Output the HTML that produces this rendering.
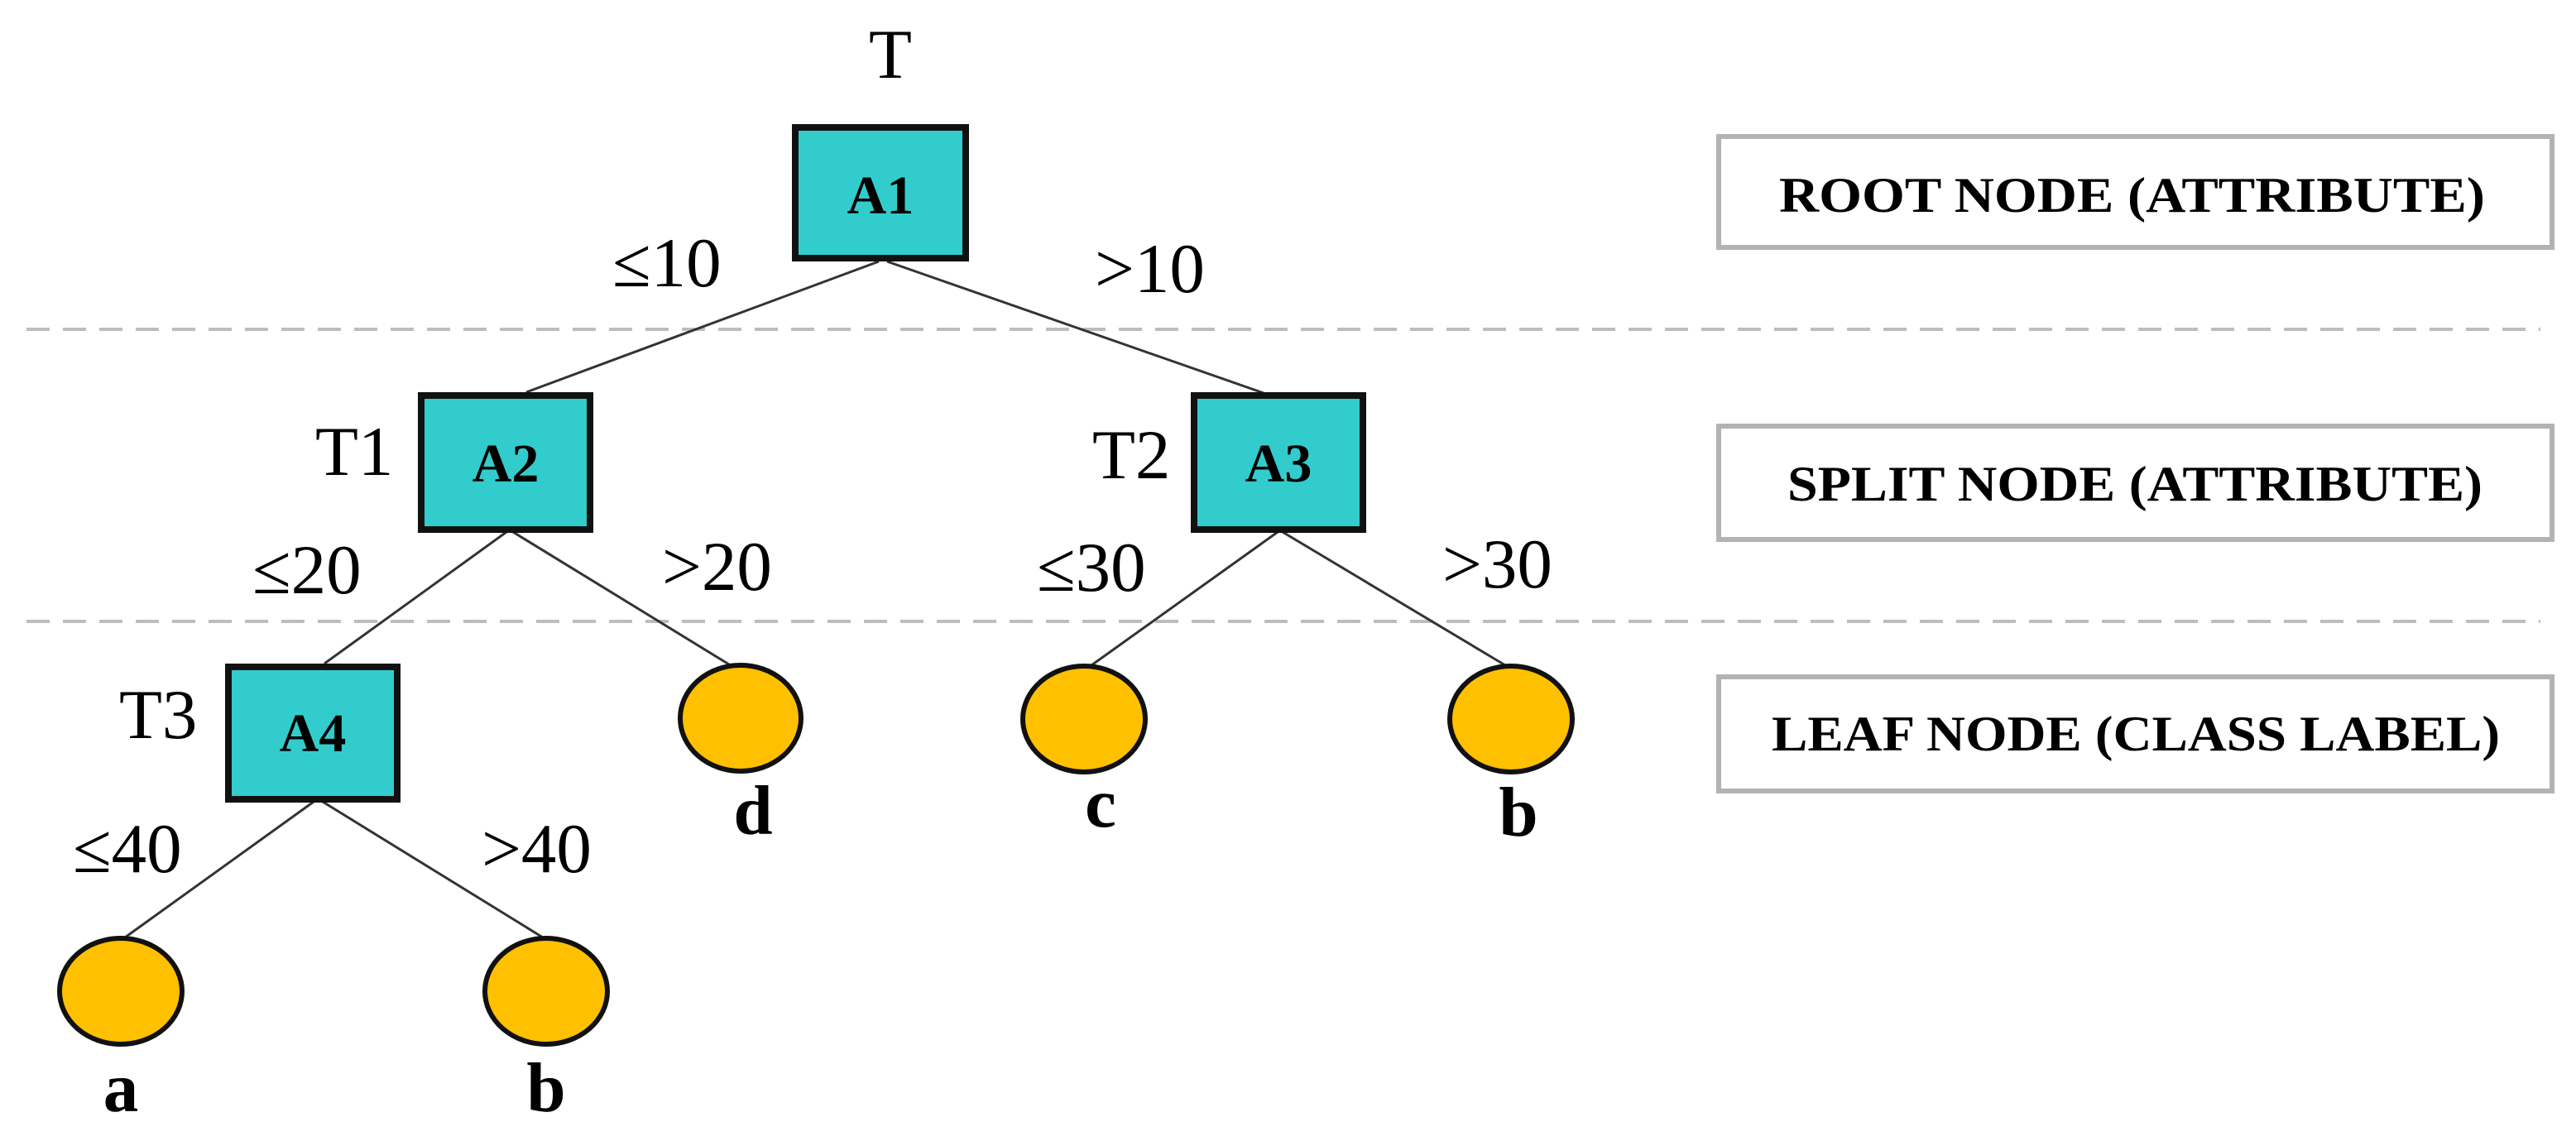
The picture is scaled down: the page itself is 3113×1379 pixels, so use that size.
<!DOCTYPE html>
<html><head><meta charset="utf-8"><style>
html,body{margin:0;padding:0;background:#fff;}
svg{display:block;}
text{font-family:"Liberation Serif",serif;fill:#000;}
</style></head><body>
<svg width="3113" height="1379" viewBox="0 0 3113 1379" xmlns="http://www.w3.org/2000/svg">
<g stroke="#bdbdbd" stroke-width="4" stroke-dasharray="28,16">
<line x1="32" y1="398" x2="3070" y2="398"/>
<line x1="32" y1="751" x2="3070" y2="751"/>
</g>
<g stroke="#333" stroke-width="3">
<line x1="1062" y1="316" x2="636" y2="474"/>
<line x1="1072" y1="316" x2="1527" y2="475"/>
<line x1="612" y1="643" x2="392" y2="802"/>
<line x1="620" y1="643" x2="881" y2="803"/>
<line x1="1544" y1="643" x2="1319" y2="804"/>
<line x1="1550" y1="643" x2="1819" y2="804"/>
<line x1="379" y1="969" x2="151" y2="1133"/>
<line x1="390" y1="969" x2="656" y2="1133"/>
</g>
<g fill="#33cccc" stroke="#111" stroke-width="8">
<rect x="961" y="154" width="206" height="158"/>
<rect x="509" y="478" width="204" height="162"/>
<rect x="1443" y="478" width="204" height="162"/>
<rect x="276" y="806" width="204" height="160"/>
</g>
<g fill="#ffc000" stroke="#111" stroke-width="6">
<ellipse cx="895" cy="868" rx="73" ry="64"/>
<ellipse cx="1310" cy="869" rx="74" ry="64"/>
<ellipse cx="1826" cy="869" rx="74" ry="64"/>
<ellipse cx="146" cy="1198" rx="74" ry="64"/>
<ellipse cx="660" cy="1198" rx="74" ry="64"/>
</g>
<g font-weight="bold" font-size="66" text-anchor="middle">
<text x="1064" y="258">A1</text>
<text x="611" y="582">A2</text>
<text x="1545" y="582">A3</text>
<text x="378" y="908">A4</text>
</g>
<g font-size="85">
<text x="1076" y="94" text-anchor="middle">T</text>
<text x="381" y="574">T1</text>
<text x="1320" y="578">T2</text>
<text x="144" y="892">T3</text>
<text x="740" y="346">≤10</text>
<text x="1323" y="353">&gt;10</text>
<text x="305" y="717">≤20</text>
<text x="800" y="713">&gt;20</text>
<text x="1253" y="714">≤30</text>
<text x="1743" y="710">&gt;30</text>
<text x="88" y="1054">≤40</text>
<text x="582" y="1054">&gt;40</text>
</g>
<g font-size="85" font-weight="bold" text-anchor="middle">
<text x="910" y="1008">d</text>
<text x="1330" y="999">c</text>
<text x="1835" y="1010">b</text>
<text x="146" y="1343">a</text>
<text x="660" y="1343">b</text>
</g>
<g fill="#fff" stroke="#b3b3b3" stroke-width="6">
<rect x="2077" y="165" width="1007" height="134"/>
<rect x="2077" y="515" width="1007" height="137"/>
<rect x="2077" y="818" width="1007" height="138"/>
</g>
<g font-size="60" font-weight="bold">
<text x="2150" y="256" textLength="853" lengthAdjust="spacingAndGlyphs">ROOT NODE (ATTRIBUTE)</text>
<text x="2160" y="605" textLength="840" lengthAdjust="spacingAndGlyphs">SPLIT NODE (ATTRIBUTE)</text>
<text x="2141" y="907" textLength="880" lengthAdjust="spacingAndGlyphs">LEAF NODE (CLASS LABEL)</text>
</g>
</svg>
</body></html>
